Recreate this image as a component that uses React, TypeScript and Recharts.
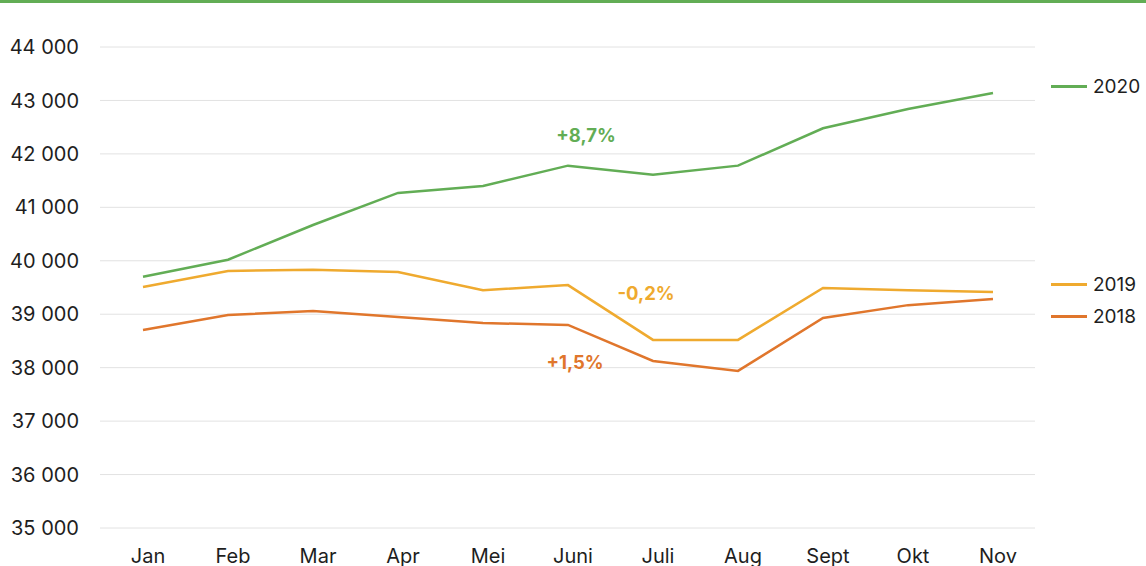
import { LineChart, Line, XAxis, YAxis, CartesianGrid, Legend, ReferenceDot } from 'recharts'

const months = ['Jan', 'Feb', 'Mar', 'Apr', 'Mei', 'Juni', 'Juli', 'Aug', 'Sept', 'Okt', 'Nov']
const y2020 = [39700, 40020, 40670, 41270, 41400, 41780, 41610, 41780, 42480, 42840, 43140]
const y2019 = [39510, 39810, 39830, 39790, 39450, 39545, 38520, 38520, 39490, 39450, 39415]
const y2018 = [38705, 38985, 39060, 38950, 38835, 38800, 38125, 37940, 38930, 39170, 39285]
const yTicks = [35000, 36000, 37000, 38000, 39000, 40000, 41000, 42000, 43000, 44000]

const GREEN = '#62ad55'
const YELLOW = '#efaa2f'
const ORANGE = '#e0762c'

const legendItems = [
  { name: '2020', color: GREEN, top: 86 },
  { name: '2019', color: YELLOW, top: 284 },
  { name: '2018', color: ORANGE, top: 316 },
]

const notes = [
  { month: 'Juni', value: 42340, text: '+8,7%', color: GREEN, dx: 18 },
  { month: 'Juli', value: 39380, text: '-0,2%', color: YELLOW, dx: -7 },
  { month: 'Juni', value: 38100, text: '+1,5%', color: ORANGE, dx: 7 },
]

const data = months.map((m, i) => ({ month: m, a: y2020[i], b: y2019[i], c: y2018[i] }))

const fmt = (v: number) => `${Math.floor(v / 1000)} ${String(v % 1000).padStart(3, '0')}`

const font = 'Inter, "Noto Sans", sans-serif'

function SideLegend() {
  return (
    <div style={{ position: 'absolute', left: 0, top: 0, width: 1146, height: 566, pointerEvents: 'none' }}>
      {legendItems.map(it => (
        <div key={it.name} style={{ position: 'absolute', left: 1051, top: it.top - 12, height: 24, display: 'flex', alignItems: 'center' }}>
          <div style={{ width: 36, height: 3, background: it.color, marginRight: 6 }} />
          <span style={{ fontFamily: font, fontSize: 19, color: '#1e1e1e' }}>{it.name}</span>
        </div>
      ))}
    </div>
  )
}

export default function App() {
  return (
    <div style={{ position: 'absolute', left: 0, top: 0, width: 1146, height: 566, overflow: 'hidden', background: '#fff' }}>
      <div style={{ position: 'absolute', left: 0, top: 0, width: 1146, height: 3, background: GREEN }} />
      <LineChart width={1146} height={566} data={data} margin={{ top: 47, right: 111, left: 0, bottom: 8 }}>
        <CartesianGrid vertical={false} stroke="#e2e2e2" />
        <XAxis
          dataKey="month"
          axisLine={false}
          tickLine={false}
          tickSize={0}
          tickMargin={21}
          height={30}
          interval={0}
          padding={{ left: 43, right: 42 }}
          tick={{ fill: '#1e1e1e', fontSize: 20, fontFamily: font, dx: 5 }}
        />
        <YAxis
          domain={[35000, 44000]}
          ticks={yTicks}
          axisLine={false}
          tickLine={false}
          tickSize={0}
          tickMargin={21}
          width={100}
          tickFormatter={fmt}
          tick={{ fill: '#1e1e1e', fontSize: 20, fontFamily: font }}
        />
        <Legend content={() => <SideLegend />} wrapperStyle={{ position: 'absolute', left: 0, top: 0 }} />
        <Line dataKey="a" stroke={GREEN} strokeWidth={2.5} dot={false} isAnimationActive={false} />
        <Line dataKey="b" stroke={YELLOW} strokeWidth={2.5} dot={false} isAnimationActive={false} />
        <Line dataKey="c" stroke={ORANGE} strokeWidth={2.5} dot={false} isAnimationActive={false} />
        {notes.map(n => (
          <ReferenceDot
            key={n.text}
            x={n.month}
            y={n.value}
            r={0}
            shape={(p: any) => (
              <text x={p.cx + n.dx} y={p.cy} dy="0.35em" textAnchor="middle" fill={n.color} fontSize={18.5} fontWeight={700} fontFamily={font}>
                {n.text}
              </text>
            )}
          />
        ))}
      </LineChart>
    </div>
  )
}
